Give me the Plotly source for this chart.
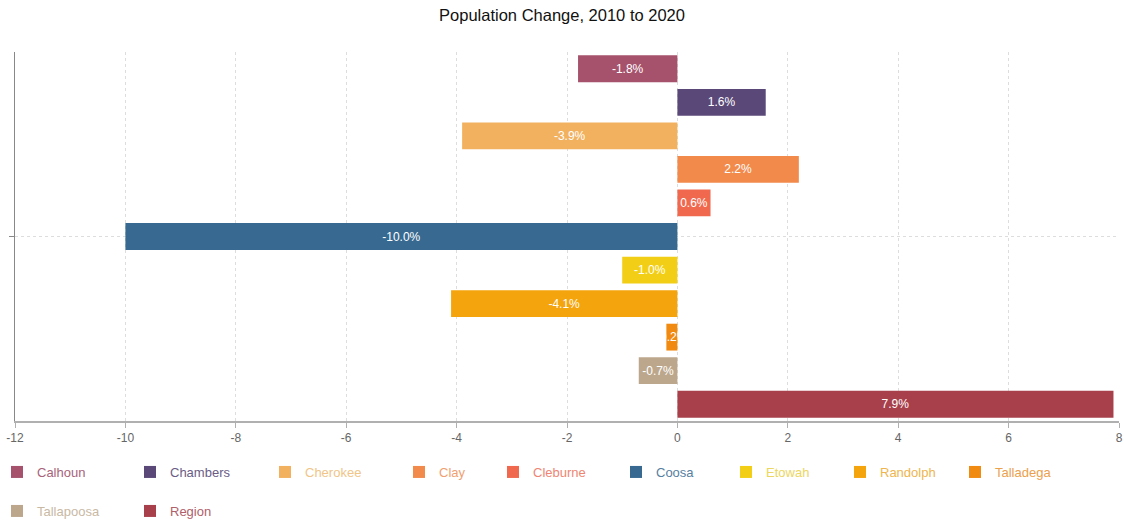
import plotly.graph_objects as go

# Population change by county, 2010 to 2020 (percent)
counties = ["Calhoun", "Chambers", "Cherokee", "Clay", "Cleburne", "Coosa",
            "Etowah", "Randolph", "Talladega", "Tallapoosa", "Region"]
change_pct = [-1.8, 1.6, -3.9, 2.2, 0.6, -10.0, -1.0, -4.1, -0.2, -0.7, 7.9]
bar_colors = ["#a6526d", "#5a4878", "#f2b15f", "#f28a4c", "#f0694f", "#376991",
              "#f2cf16", "#f4a40c", "#f08a10", "#bca78c", "#a8404c"]
label_colors = ["#a8627a", "#6a5c86", "#f0c587", "#f0a070", "#ee8573", "#56809f",
                "#ecd660", "#eeb54e", "#eba04c", "#c9b9a4", "#b0606a"]
x_ticks = [-12, -10, -8, -6, -4, -2, 0, 2, 4, 6, 8]
group = ["Population Change"]

# legend entry positions (pixels from left edge, row centre in pixels from top)
legend_px = [17, 150, 285, 419, 513, 636, 746, 860, 975, 17, 150]
legend_row_y = [472] * 9 + [511] * 2

W, H = 1124, 522
M_L, M_R, M_T, M_B = 15, 5, 52, 101
plot_w = W - M_L - M_R
plot_h = H - M_T - M_B

fig = go.Figure()
layout_legends = {}
for i, (name, val, col, lcol) in enumerate(zip(counties, change_pct, bar_colors, label_colors)):
    key = "legend" if i == 0 else f"legend{i + 1}"
    fig.add_trace(go.Bar(
        x=[val], y=group, orientation="h", name=name,
        marker=dict(color=col, line=dict(width=0)),
        text=[f"{val:.1f}%"], textposition="inside", insidetextanchor="middle",
        textangle=0, textfont=dict(color="white", size=12, family="Liberation Sans, Arial"),
        legend=key, hoverinfo="name+x",
    ))
    layout_legends[key] = dict(
        x=(legend_px[i] - 20 - M_L) / plot_w, xanchor="left",
        y=-(legend_row_y[i] - (H - M_B)) / plot_h, yanchor="middle",
        orientation="h", bgcolor="rgba(0,0,0,0)",
        font=dict(color=lcol, size=13, family="Liberation Sans, Arial"),
    )

fig.update_layout(
    width=W, height=H,
    margin=dict(l=M_L, r=M_R, t=M_T, b=M_B, autoexpand=False),
    paper_bgcolor="white", plot_bgcolor="white",
    title=dict(text="Population Change, 2010 to 2020", x=0.5, xanchor="center",
               y=1 - 15 / H, yanchor="middle",
               font=dict(size=16.5, color="#111111", family="Liberation Sans, Arial")),
    barmode="group", bargap=0, bargroupgap=0.2,
    uniformtext=dict(minsize=12, mode="show"),
    showlegend=True,
    xaxis=dict(range=[-12, 8], tickvals=x_ticks, ticktext=[str(t) for t in x_ticks],
               showgrid=True, gridcolor="#dddddd", griddash="dot", gridwidth=1,
               zeroline=False, showline=True, linecolor="#b0b0b0", linewidth=2,
               ticks="outside", ticklen=5, tickcolor="#b0b0b0",
               tickfont=dict(size=12, color="#666666", family="Liberation Sans, Arial")),
    yaxis=dict(autorange="reversed", showticklabels=False,
               showgrid=True, gridcolor="#dddddd", griddash="dot", gridwidth=1,
               showline=True, linecolor="#888888", linewidth=1,
               ticks="outside", ticklen=5, tickcolor="#888888"),
    **layout_legends,
)

fig.write_html("out.html")
